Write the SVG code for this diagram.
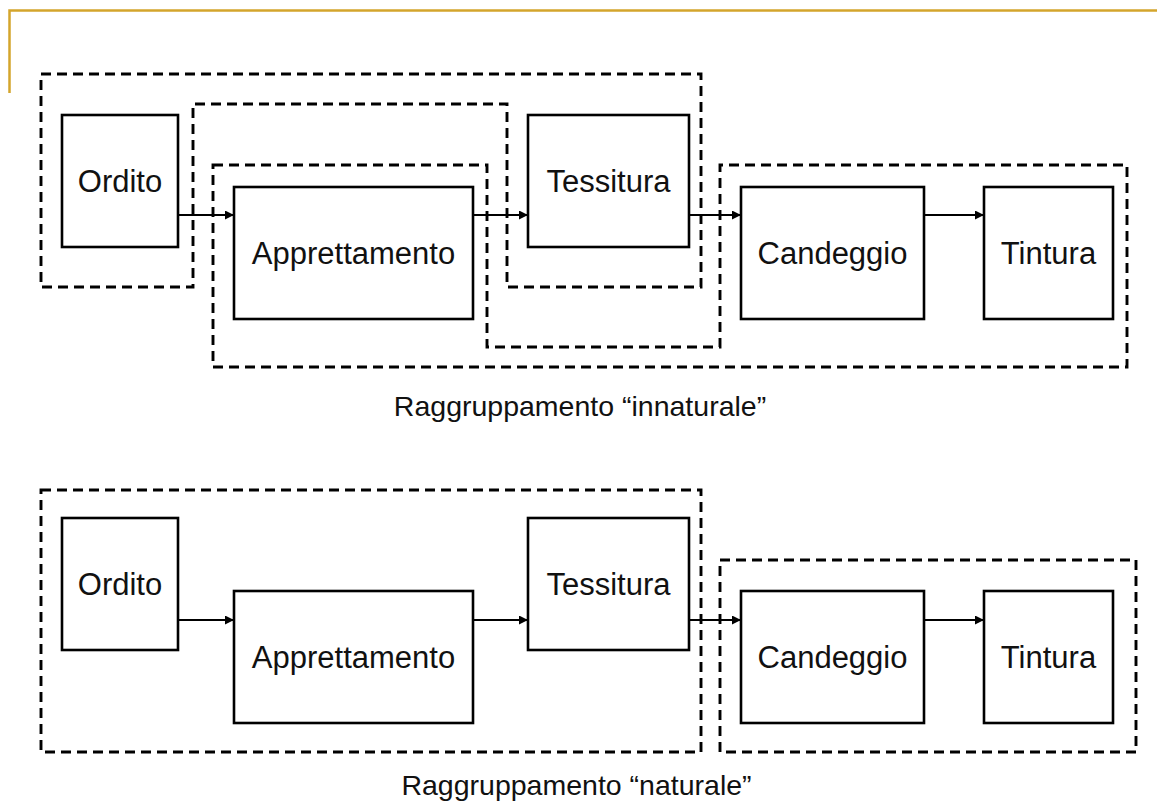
<svg xmlns="http://www.w3.org/2000/svg" width="1157" height="803" viewBox="0 0 1157 803">
  <defs>
    <style>
      .box { fill: #fff; stroke: #000; stroke-width: 2.6; }
      .grp { fill: none; stroke: #000; stroke-width: 2.9; stroke-dasharray: 10 6; stroke-linejoin: miter; }
      .lbl { font-family: "Liberation Sans", Arial, sans-serif; font-size: 31px; fill: #111; text-anchor: middle; }
      .cap { font-family: "Liberation Sans", Arial, sans-serif; font-size: 28.5px; fill: #111; text-anchor: middle; }
      .link { fill: none; stroke: #000; stroke-width: 2; marker-end: url(#arrow); }
    </style>
    <marker id="arrow" viewBox="0 0 10 10" refX="10" refY="5" markerWidth="10" markerHeight="9" markerUnits="userSpaceOnUse" orient="auto">
      <path d="M0,0 L10,5 L0,10 Z" fill="#000"/>
    </marker>
  </defs>

  <rect width="1157" height="803" fill="#fff"/>

  <!-- slide frame corner -->
  <path d="M9.5,93 L9.5,10.5 L1157,10.5" fill="none" stroke="#D4A52C" stroke-width="2.5"/>

  <!-- upper layout: groupings -->
  <g id="groups-innaturale">
    <polygon class="grp" points="41,74 701,74 701,287 507,287 507,104 193,104 193,287 41,287"/>
    <polygon class="grp" points="213,165 487,165 487,347 720,347 720,165 1127,165 1127,367 213,367"/>
  </g>

  <!-- upper layout: connectors -->
  <g id="connectors-top">
    <line class="link" x1="178" y1="215" x2="234" y2="215"/>
    <line class="link" x1="473" y1="215" x2="528" y2="215"/>
    <line class="link" x1="689" y1="215" x2="741" y2="215"/>
    <line class="link" x1="924" y1="215" x2="984" y2="215"/>
  </g>

  <!-- upper layout: nodes -->
  <g id="ordito-1">
    <rect class="box" x="62" y="115" width="116" height="132"/>
    <text class="lbl" x="120" y="192">Ordito</text>
  </g>
  <g id="apprettamento-1">
    <rect class="box" x="234" y="187" width="239" height="132"/>
    <text class="lbl" x="353.5" y="264">Apprettamento</text>
  </g>
  <g id="tessitura-1">
    <rect class="box" x="528" y="115" width="161" height="132"/>
    <text class="lbl" x="608.5" y="192">Tessitura</text>
  </g>
  <g id="candeggio-1">
    <rect class="box" x="741" y="187" width="183" height="132"/>
    <text class="lbl" x="832.5" y="264">Candeggio</text>
  </g>
  <g id="tintura-1">
    <rect class="box" x="984" y="187" width="129" height="132"/>
    <text class="lbl" x="1048.5" y="264">Tintura</text>
  </g>

  <text class="cap" x="580" y="416">Raggruppamento “innaturale”</text>

  <!-- lower layout: groupings -->
  <g id="groups-naturale">
    <rect class="grp" x="41" y="490" width="660" height="262"/>
    <rect class="grp" x="720" y="560" width="416" height="192"/>
  </g>

  <!-- lower layout: connectors -->
  <g id="connectors-bottom">
    <line class="link" x1="178" y1="620" x2="234" y2="620"/>
    <line class="link" x1="473" y1="620" x2="528" y2="620"/>
    <line class="link" x1="689" y1="620" x2="741" y2="620"/>
    <line class="link" x1="924" y1="620" x2="984" y2="620"/>
  </g>

  <!-- lower layout: nodes -->
  <g id="ordito-2">
    <rect class="box" x="62" y="518" width="116" height="132"/>
    <text class="lbl" x="120" y="595">Ordito</text>
  </g>
  <g id="apprettamento-2">
    <rect class="box" x="234" y="591" width="239" height="132"/>
    <text class="lbl" x="353.5" y="668">Apprettamento</text>
  </g>
  <g id="tessitura-2">
    <rect class="box" x="528" y="518" width="161" height="132"/>
    <text class="lbl" x="608.5" y="595">Tessitura</text>
  </g>
  <g id="candeggio-2">
    <rect class="box" x="741" y="591" width="183" height="132"/>
    <text class="lbl" x="832.5" y="668">Candeggio</text>
  </g>
  <g id="tintura-2">
    <rect class="box" x="984" y="591" width="129" height="132"/>
    <text class="lbl" x="1048.5" y="668">Tintura</text>
  </g>

  <text class="cap" x="576.5" y="795">Raggruppamento “naturale”</text>
</svg>
